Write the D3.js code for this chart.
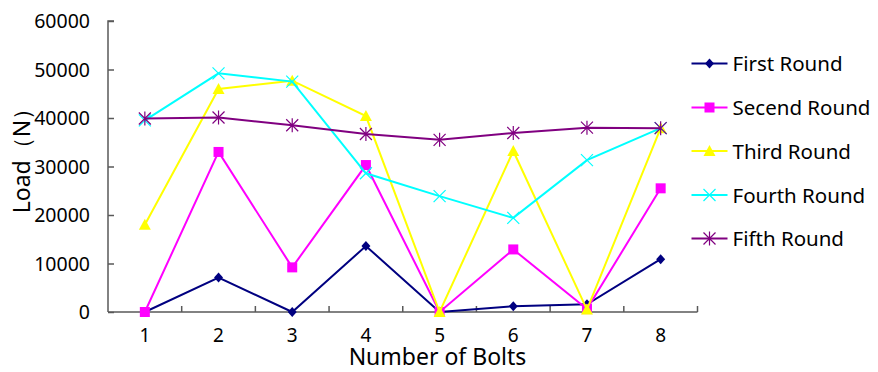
<!DOCTYPE html>
<html><head><meta charset="utf-8">
<script src="https://cdn.jsdelivr.net/npm/d3@7"></script>
<style>
html,body{margin:0;padding:0;background:#fff;}
svg text{font-family:"Noto Sans","Open Sans",sans-serif;fill:#000;}
</style></head>
<body><svg id="c" width="878" height="372"></svg>
<script>
const categories = ["1","2","3","4","5","6","7","8"];
const seriesNames = ["First Round","Secend Round","Third Round","Fourth Round","Fifth Round"];
const firstRound  = [0, 7100, 0, 13600, 0, 1200, 1600, 10900];
const secendRound = [0, 33000, 9200, 30300, 0, 12900, 600, 25500];
const thirdRound  = [18000, 46000, 47700, 40400, 0, 33200, 500, 37900];
const fourthRound = [39500, 49200, 47500, 28600, 23900, 19400, 31300, 37900];
const fifthRound  = [39900, 40100, 38500, 36700, 35500, 36900, 38000, 37900];
const yTicks = [0, 10000, 20000, 30000, 40000, 50000, 60000];
const colors = ["#000080","#FF00FF","#FFFF00","#00FFFF","#800080"];
const markers = ["diamond","square","triangle","x","star"];
const allSeries = [firstRound, secendRound, thirdRound, fourthRound, fifthRound];

const svg = d3.select("#c");
const pL = 108, pR = 697.5, pT = 21, pB = 312;
const x = d3.scaleBand().domain(categories).range([pL, pR]);
const y = d3.scaleLinear().domain([0, 60000]).range([pB, pT]);
const axisColor = "#595959";

// y axis (ticks inside)
const yAxis = d3.axisRight(y).tickValues(yTicks).tickSize(6).tickFormat("");
const gy = svg.append("g").attr("transform", `translate(${pL},0)`).call(yAxis);
gy.select(".domain").attr("d", `M6,${pT}H0V${pB}`).attr("stroke", axisColor).attr("stroke-width", 1.5);
gy.selectAll(".tick line").attr("stroke", axisColor).attr("stroke-width", 1.5);
svg.append("g").selectAll("text").data(yTicks).join("text")
  .attr("x", 90).attr("y", d => y(d) + 7).attr("text-anchor", "end")
  .attr("font-size", 19.5).text(d => d);

// x axis (ticks inside, at category boundaries)
const bounds = categories.map(c => x(c)).concat([pR]);
const gx = svg.append("g");
gx.append("path").attr("d", `M${pL},${pB}H${pR}`).attr("stroke", axisColor).attr("stroke-width", 1.5).attr("fill", "none");
gx.selectAll("line").data(bounds.slice(1)).join("line")
  .attr("x1", d => d).attr("x2", d => d).attr("y1", pB).attr("y2", pB - 6)
  .attr("stroke", axisColor).attr("stroke-width", 1.5);
gx.selectAll("text").data(categories).join("text")
  .attr("x", d => x(d) + x.bandwidth() / 2).attr("y", 342).attr("text-anchor", "middle")
  .attr("font-size", 19).text(d => d);

// titles
svg.append("text").attr("x", 437.5).attr("y", 364.5).attr("text-anchor", "middle")
  .attr("font-size", 23).text("Number of Bolts");
svg.append("text").attr("transform", "translate(30,155) rotate(-90)").attr("text-anchor", "middle")
  .attr("font-size", 23).text("Load（N）");

function drawMarker(g, type, color, cx, cy) {
  if (type === "diamond") {
    g.append("path").attr("d", `M${cx},${cy-5}L${cx+4.5},${cy}L${cx},${cy+5}L${cx-4.5},${cy}Z`).attr("fill", color);
  } else if (type === "square") {
    g.append("rect").attr("x", cx - 5).attr("y", cy - 5).attr("width", 10).attr("height", 10).attr("fill", color);
  } else if (type === "triangle") {
    g.append("path").attr("d", `M${cx},${cy-6}L${cx+6},${cy+5}L${cx-6},${cy+5}Z`).attr("fill", color);
  } else if (type === "x") {
    g.append("path").attr("d", `M${cx-6},${cy-6}L${cx+6},${cy+6}M${cx-6},${cy+6}L${cx+6},${cy-6}`).attr("stroke", color).attr("stroke-width", 1.2);
  } else if (type === "star") {
    g.append("path").attr("d", `M${cx-6},${cy-6}L${cx+6},${cy+6}M${cx-6},${cy+6}L${cx+6},${cy-6}M${cx},${cy-7}V${cy+7}`).attr("stroke", color).attr("stroke-width", 1.2);
  }
}

const line = d3.line().x((d, i) => x(categories[i]) + x.bandwidth() / 2).y(d => y(d));
allSeries.forEach((s, k) => {
  const g = svg.append("g");
  g.append("path").datum(s).attr("d", line).attr("fill", "none").attr("stroke", colors[k]).attr("stroke-width", 2);
  s.forEach((v, i) => drawMarker(g, markers[k], colors[k], x(categories[i]) + x.bandwidth() / 2, y(v)));
});

// legend
const legY = [63.5, 107.5, 151, 195, 238.5];
seriesNames.forEach((n, k) => {
  const g = svg.append("g");
  g.append("line").attr("x1", 691.5).attr("x2", 727.5).attr("y1", legY[k]).attr("y2", legY[k]).attr("stroke", colors[k]).attr("stroke-width", 2);
  drawMarker(g, markers[k], colors[k], 709.5, legY[k]);
  g.append("text").attr("x", 732.5).attr("y", legY[k] + 7.5).attr("font-size", 20.5).text(n);
});
</script></body></html>
